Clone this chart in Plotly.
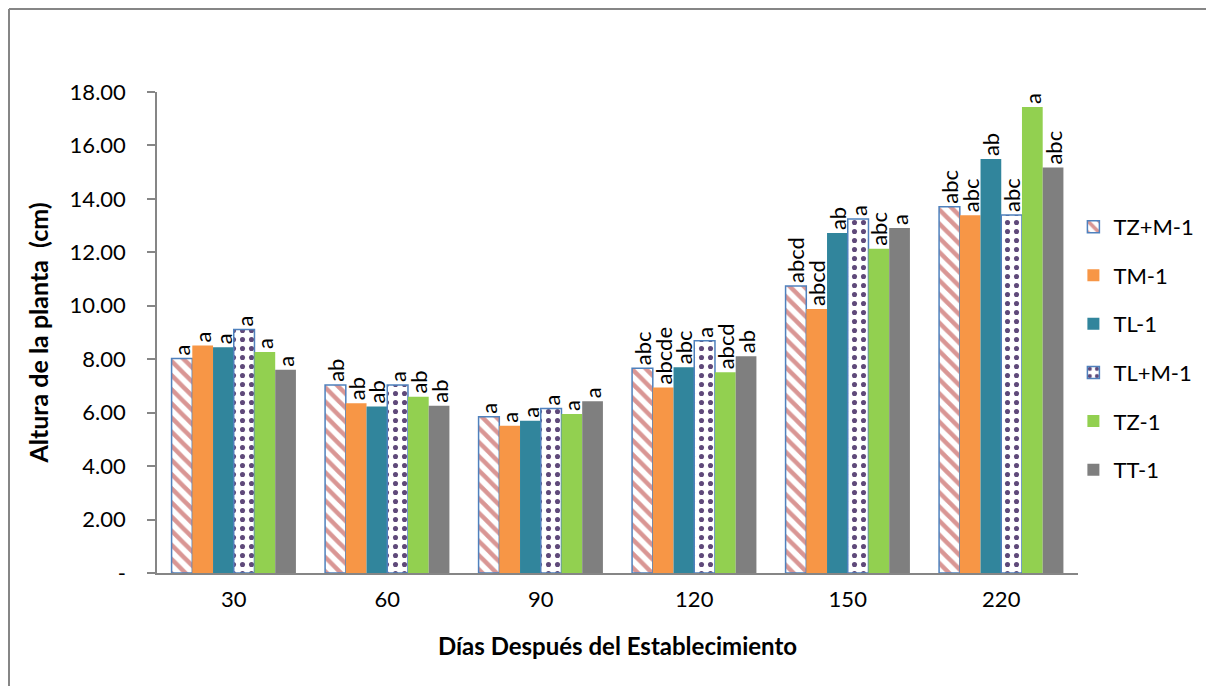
import plotly.graph_objects as go

categories = ["30", "60", "90", "120", "150", "220"]
series_names = ["TZ+M-1", "TM-1", "TL-1", "TL+M-1", "TZ-1", "TT-1"]

tzm = [8.03, 7.04, 5.85, 7.66, 10.74, 13.71]
tm = [8.51, 6.35, 5.51, 6.94, 9.88, 13.39]
tl = [8.45, 6.23, 5.70, 7.70, 12.72, 15.49]
tlm = [9.11, 7.04, 6.16, 8.69, 13.25, 13.40]
tz = [8.27, 6.60, 5.95, 7.51, 12.13, 17.44]
tt = [7.61, 6.26, 6.43, 8.11, 12.91, 15.17]

lab_tzm = ["a", "ab", "a", "abc", "abcd", "abc"]
lab_tm = ["a", "ab", "a", "abcde", "abcd", "abc"]
lab_tl = ["a", "ab", "a", "abc", "ab", "ab"]
lab_tlm = ["a", "a", "a", "a", "a", "abc"]
lab_tz = ["a", "ab", "a", "abcd", "abc", "a"]
lab_tt = ["a", "ab", "a", "ab", "a", "abc"]

y_tickvals = [0, 2, 4, 6, 8, 10, 12, 14, 16, 18]
y_ticktext = ["-", "2.00", "4.00", "6.00", "8.00", "10.00", "12.00", "14.00", "16.00", "18.00"]

FONT = "Lato"
values = [tzm, tm, tl, tlm, tz, tt]
labels = [lab_tzm, lab_tm, lab_tl, lab_tlm, lab_tz, lab_tt]

styles = [
    dict(color="white", line=dict(color="#4F81BD", width=1.5),
         pattern=dict(shape="\\", fgcolor="#D99694", bgcolor="white", size=10,
                      solidity=0.45, fgopacity=1)),
    dict(color="#F79646", line=dict(width=0)),
    dict(color="#31859C", line=dict(width=0)),
    dict(color="white", line=dict(color="#4F81BD", width=1.5),
         pattern=dict(shape=".", fgcolor="#5F497A", bgcolor="white", size=9,
                      solidity=0.25, fgopacity=1)),
    dict(color="#92D050", line=dict(width=0)),
    dict(color="#7F7F7F", line=dict(width=0)),
]

fig = go.Figure()
for name, vals, labs, st in zip(series_names, values, labels, styles):
    fig.add_trace(go.Bar(
        name=name, x=categories, y=vals, text=labs,
        textposition="outside", textangle=-90, constraintext="none",
        textfont=dict(family=FONT, size=22, color="black"),
        cliponaxis=False, marker=st, legendgroup=name,
    ))

# outer chart border (top and left edges)
fig.add_shape(type="line", xref="paper", yref="paper",
              x0=-0.1607, x1=-0.1607, y0=-0.3, y1=1.1726,
              line=dict(color="#868686", width=2))
fig.add_shape(type="line", xref="paper", yref="paper",
              x0=-0.1607, x1=1.2, y0=1.1726, y1=1.1726,
              line=dict(color="#868686", width=2))

fig.update_layout(
    width=1214, height=686,
    margin=dict(l=149, r=144, t=84, b=121, autoexpand=False),
    paper_bgcolor="white", plot_bgcolor="white",
    barmode="group", bargap=0.19, bargroupgap=0,
    font=dict(family=FONT, size=22, color="black"),
    uniformtext=dict(mode="show", minsize=22),
    legend=dict(x=0.995, xanchor="left", y=0.467, yanchor="middle",
                font=dict(family=FONT, size=22), tracegroupgap=17,
                itemwidth=30),
    showlegend=True,
)
fig.update_xaxes(
    type="category", showline=True, linecolor="#868686", linewidth=1.5,
    ticks="", tickfont=dict(family=FONT, size=22), ticklabelstandoff=6,
    title=dict(text="<b>Días Después del Establecimiento</b>",
               font=dict(family=FONT, size=24), standoff=27),
)
fig.update_yaxes(
    range=[0, 18], tickvals=y_tickvals, ticktext=y_ticktext,
    showline=True, linecolor="#868686", linewidth=1.5,
    ticks="outside", ticklen=8, tickcolor="#868686", tickwidth=1.5,
    showgrid=False, zeroline=False,
    tickfont=dict(family=FONT, size=22), ticklabelstandoff=17,
    title=dict(text="<b>Altura de la planta  (cm)</b>",
               font=dict(family=FONT, size=25), standoff=14),
)

fig.write_html("out.html")
